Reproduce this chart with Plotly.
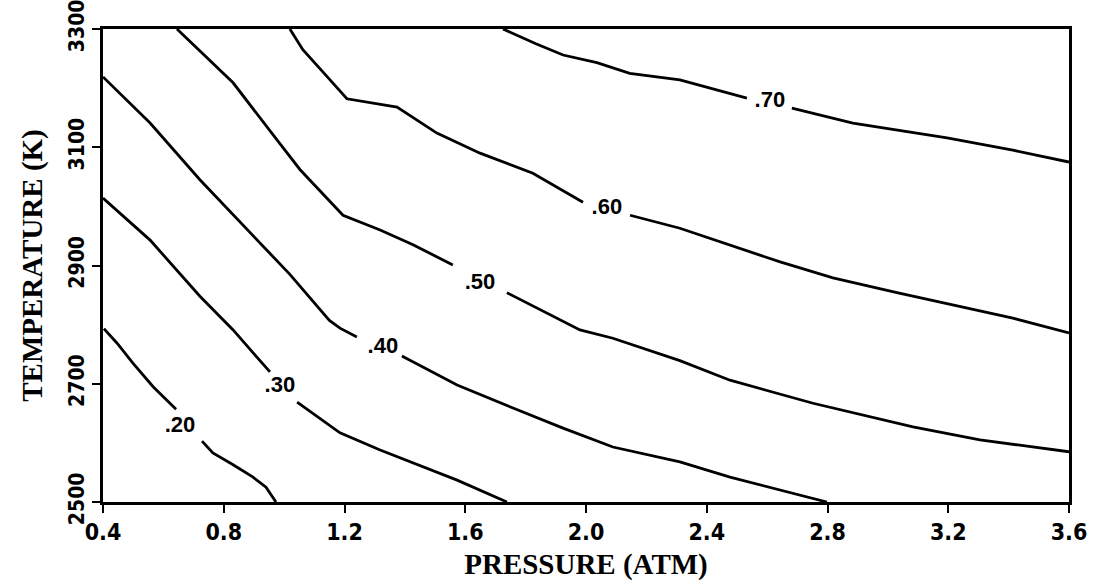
import plotly.graph_objects as go

# Iso-lines of the fraction vs. pressure (atm) and temperature (K).
# None splits each line where its value label sits.
levels = [".20", ".30", ".40", ".50", ".60", ".70"]

p_20 = [0.403, 0.446, 0.499, 0.566, 0.642, None, 0.728, 0.764, 0.831, 0.897, 0.94, 0.973]
t_20 = [2793, 2769, 2735, 2695, 2657, None, 2603, 2583, 2563, 2542, 2525, 2500]

p_30 = [0.40, 0.556, 0.721, 0.831, 0.953, None, 1.043, 1.185, 1.318, 1.573, 1.738]
t_30 = [3014, 2943, 2848, 2791, 2720, None, 2669, 2617, 2588, 2537, 2500]

p_40 = [0.40, 0.556, 0.721, 0.887, 1.019, 1.150, 1.185, 1.241, None,
        1.390, 1.573, 1.758, 1.924, 2.089, 2.311, 2.477, 2.643, 2.798]
t_40 = [3219, 3141, 3045, 2955, 2885, 2807, 2794, 2779, None,
        2747, 2698, 2659, 2625, 2593, 2568, 2542, 2520, 2500]

p_50 = [0.645, 0.831, 0.986, 1.053, 1.195, 1.318, 1.427, 1.559, None,
        1.738, 1.980, 2.089, 2.311, 2.477, 2.752, 3.083, 3.305, 3.60]
t_50 = [3300, 3209, 3106, 3062, 2985, 2960, 2935, 2901, None,
        2854, 2791, 2777, 2739, 2706, 2667, 2627, 2605, 2585]

p_60 = [1.019, 1.062, 1.129, 1.208, 1.374, 1.506, 1.649, 1.824, 1.990, None,
        2.146, 2.311, 2.643, 2.818, 3.030, 3.249, 3.414, 3.60]
t_60 = [3300, 3265, 3227, 3182, 3168, 3124, 3090, 3056, 3007, None,
        2985, 2963, 2906, 2879, 2854, 2830, 2811, 2786]

p_70 = [1.725, 1.834, 1.924, 2.036, 2.145, 2.311, 2.533, None,
        2.682, 2.884, 3.196, 3.414, 3.60]
t_70 = [3300, 3275, 3256, 3243, 3225, 3214, 3183, None,
        3166, 3141, 3116, 3095, 3075]

# Where each value label is written on its line
label_p = [0.655, 0.986, 1.327, 1.649, 2.069, 2.609]
label_t = [2627, 2695, 2761, 2870, 2997, 3177]

x_ticks = [0.4, 0.8, 1.2, 1.6, 2.0, 2.4, 2.8, 3.2, 3.6]
x_tick_text = ["0.4", "0.8", "1.2", "1.6", "2.0", "2.4", "2.8", "3.2", "3.6"]
y_ticks = [2500, 2700, 2900, 3100, 3300]
y_tick_text = ["2500", "2700", "2900", "3100", "3300"]

lines = [(p_20, t_20), (p_30, t_30), (p_40, t_40), (p_50, t_50), (p_60, t_60), (p_70, t_70)]

fig = go.Figure()
for (px, ty), name in zip(lines, levels):
    fig.add_trace(go.Scatter(
        x=px, y=ty, mode="lines", name=name,
        line=dict(color="black", width=2.8),
        connectgaps=False, showlegend=False, hoverinfo="skip",
    ))

fig.add_trace(go.Scatter(
    x=label_p, y=label_t, mode="text", text=levels,
    textposition="middle center",
    textfont=dict(family="Liberation Sans, Arial, sans-serif", size=22, color="black",
                  weight="bold"),
    showlegend=False, hoverinfo="skip",
))

font_family = "DejaVu Sans Condensed, DejaVu Sans, sans-serif"
title_font = dict(family="Liberation Serif, Times New Roman, serif", size=29,
                  color="black", weight="bold")

fig.update_layout(
    width=1093, height=588,
    margin=dict(l=103, r=24, t=29, b=86),
    paper_bgcolor="white", plot_bgcolor="white",
    xaxis=dict(
        range=[0.4, 3.6], tickvals=x_ticks, ticktext=x_tick_text,
        showgrid=False, zeroline=False, automargin=False,
        showline=True, linecolor="black", linewidth=2.5, mirror=True,
        ticks="outside", ticklen=8, tickwidth=2, tickcolor="black",
        tickfont=dict(family=font_family, size=23, color="black", weight="bold"),
        ticklabeloverflow="allow",
        title=dict(text="PRESSURE (ATM)", font=title_font, standoff=10),
    ),
    yaxis=dict(
        range=[2500, 3300], tickvals=y_ticks, ticktext=y_tick_text,
        showgrid=False, zeroline=False, automargin=False,
        showline=True, linecolor="black", linewidth=2.5, mirror=True,
        ticks="outside", ticklen=8, tickwidth=2, tickcolor="black",
        tickangle=-90,
        tickfont=dict(family=font_family, size=21, color="black", weight="bold"),
        ticklabeloverflow="allow",
        title=dict(text="TEMPERATURE (K)", font=title_font, standoff=14),
    ),
)

fig.write_html("out.html")
